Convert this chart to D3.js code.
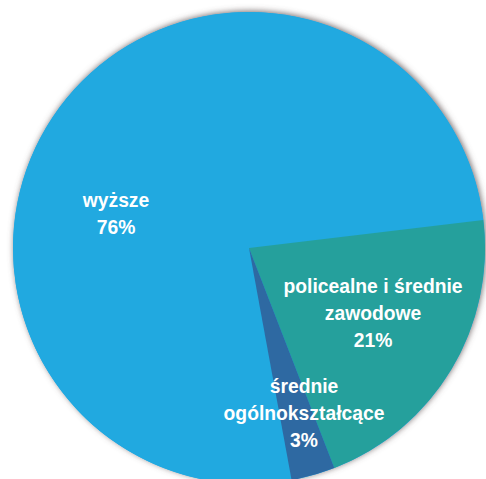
<!DOCTYPE html>
<html>
<head>
<meta charset="utf-8">
<script src="https://cdn.jsdelivr.net/npm/d3@7"></script>
<style>
  body { margin: 0; background: #fff; }
  .lbl { font-family: "Liberation Sans", Arial, sans-serif; font-weight: bold; font-size: 21px; fill: #fff; }
</style>
</head>
<body>
<div class="chart"></div>
<script>
// Data
var categories = ["wyższe", "policealne i średnie zawodowe", "średnie ogólnokształcące"];
var values = [76, 21, 3];
var labelLines = [
    ["wyższe", "76%"],
    ["policealne i średnie", "zawodowe", "21%"],
    ["średnie", "ogólnokształcące", "3%"]
];

// Layout
var svgWidth = 486;
var svgHeight = 479;
var cx = 249, cy = 248, radius = 236;
var colors = ["#21a9e0", "#25a09c", "#2e69a2"];
// label block anchor (offset from pie centre, first baseline)
var labelOffsets = [[-133, -41], [124, 45], [55, 145]];
var lineHeight = 27;

var svg = d3.select(".chart")
    .append("svg")
    .attr("width", svgWidth)
    .attr("height", svgHeight);

var defs = svg.append("defs");
var filter = defs.append("filter")
    .attr("id", "shadow")
    .attr("x", "-10%").attr("y", "-10%")
    .attr("width", "120%").attr("height", "120%");
filter.append("feDropShadow")
    .attr("dx", 1)
    .attr("dy", -1)
    .attr("stdDeviation", 3)
    .attr("flood-color", "#5e5252")
    .attr("flood-opacity", 0.85);

var chart = svg.append("g")
    .attr("transform", `translate(${cx}, ${cy})`);

var start = 169.6 * Math.PI / 180;
var pie = d3.pie()
    .sort(null)
    .startAngle(start)
    .endAngle(start + 2 * Math.PI);

var arc = d3.arc().innerRadius(0).outerRadius(radius);

var arcs = pie(values);

// shadow disc behind the slices
chart.append("circle")
    .attr("r", radius)
    .attr("fill", colors[0])
    .attr("filter", "url(#shadow)");

chart.selectAll("path.slice")
    .data(arcs)
    .enter()
    .append("path")
    .attr("class", "slice")
    .attr("d", arc)
    .attr("fill", function(d, i) { return colors[i]; });

// Labels (slightly condensed, like the original type)
arcs.forEach(function(d, i) {
    var t = chart.append("text")
        .attr("class", "lbl")
        .attr("text-anchor", "middle")
        .attr("transform", `translate(${labelOffsets[i][0]}, ${labelOffsets[i][1]}) scale(0.92, 1)`);
    labelLines[i].forEach(function(line, j) {
        t.append("tspan")
            .attr("x", 0)
            .attr("y", j * lineHeight)
            .text(line);
    });
});
</script>
</body>
</html>
